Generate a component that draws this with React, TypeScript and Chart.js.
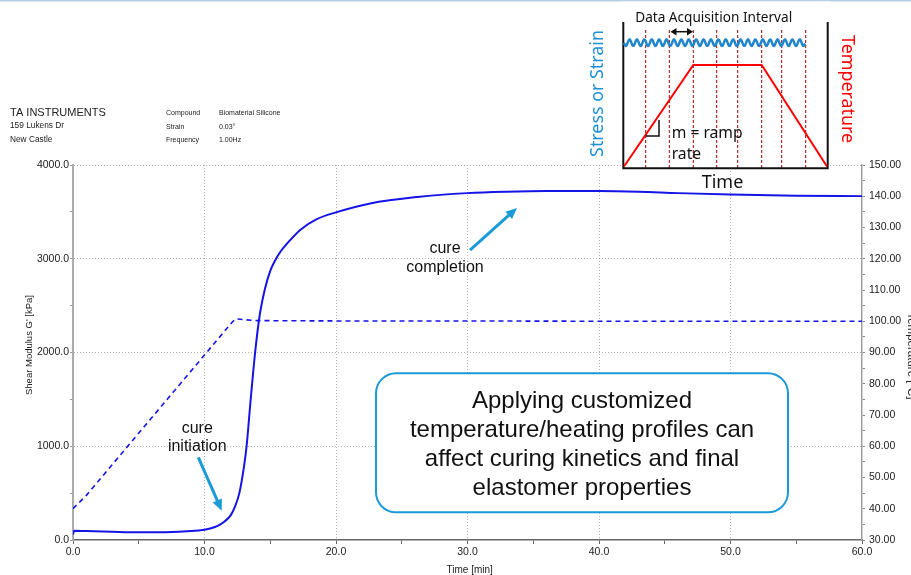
import React, { useEffect, useRef } from "react";
import { Chart, registerables } from "chart.js";
Chart.register(...registerables);

// ---- data ----
const modulusTime = [0, 0.1, 1, 3, 5, 7, 9, 10, 10.5, 11, 11.5, 12, 12.3, 12.65, 13.0, 13.2, 13.5, 13.85, 14.2, 14.6, 15.0, 15.4, 15.8, 16.3, 17.3, 18.5, 20, 22.6, 26.2, 30, 33, 36, 40, 43, 46, 50, 55, 60];
const modulusKPa = [60, 100, 95, 88, 83, 84, 95, 110, 125, 150, 195, 265, 350, 500, 780, 1000, 1480, 2000, 2400, 2680, 2870, 2990, 3080, 3165, 3310, 3420, 3495, 3590, 3659, 3700, 3715, 3722, 3722, 3715, 3700, 3685, 3672, 3668];
const tempTime = [0, 0.35, 1, 12.1, 12.4, 13, 14, 20, 30, 40, 50, 60];
const tempC = [40, 41.5, 44.2, 99.7, 100.8, 100.5, 100.2, 100.1, 100.1, 100, 100, 100];

const xTicksLabelled = [0, 10, 20, 30, 40, 50, 60];
const headerLeft = ["TA INSTRUMENTS", "159 Lukens Dr", "New Castle"];
const headerKeys = ["Compound", "Strain", "Frequency"];
const headerValues = ["Biomaterial Silicone", "0.03°", "1.00Hz"];
const boxLines = ["Applying customized", "temperature/heating profiles can", "affect curing kinetics and final", "elastomer properties"];

const F = '"Liberation Sans", Arial, sans-serif';
const INSET_F = '"Noto Sans", "Open Sans", sans-serif';
const BLUE = "#1414e6";
const ARROW = "#1a9ad6";
const GRID = "#b0b0b0";

function fitFont(ctx: CanvasRenderingContext2D, text: string, width: number, family: string) {
  ctx.font = `100px ${family}`;
  const w = ctx.measureText(text).width;
  const size = (100 * width) / w;
  return `${size}px ${family}`;
}

function arrow(ctx: CanvasRenderingContext2D, x1: number, y1: number, x2: number, y2: number) {
  const a = Math.atan2(y2 - y1, x2 - x1);
  const head = 11;
  ctx.save();
  ctx.strokeStyle = ARROW;
  ctx.fillStyle = ARROW;
  ctx.lineWidth = 3;
  ctx.beginPath();
  ctx.moveTo(x1, y1);
  ctx.lineTo(x2 - Math.cos(a) * head * 0.6, y2 - Math.sin(a) * head * 0.6);
  ctx.stroke();
  ctx.beginPath();
  ctx.moveTo(x2, y2);
  ctx.lineTo(x2 - head * Math.cos(a) + 5 * Math.sin(a), y2 - head * Math.sin(a) - 5 * Math.cos(a));
  ctx.lineTo(x2 - head * Math.cos(a) - 5 * Math.sin(a), y2 - head * Math.sin(a) + 5 * Math.cos(a));
  ctx.closePath();
  ctx.fill();
  ctx.restore();
}

const overlay = {
  id: "overlay",
  beforeDraw(chart: any) {
    const ctx = chart.ctx as CanvasRenderingContext2D;
    ctx.save();
    ctx.fillStyle = "#fff";
    ctx.fillRect(0, 0, chart.width, chart.height);
    ctx.restore();
  },
  afterDraw(chart: any) {
    const ctx = chart.ctx as CanvasRenderingContext2D;
    const xs = chart.scales.x;
    const ys = chart.scales.y;
    ctx.save();

    // top border line
    ctx.fillStyle = "#b8cfe2";
    ctx.fillRect(0, 0, chart.width, 1.5);

    // header
    ctx.fillStyle = "#222";
    ctx.textBaseline = "middle";
    ctx.textAlign = "left";
    ctx.font = fitFont(ctx, headerLeft[0], 96, F);
    ctx.fillText(headerLeft[0], 10, 112.7);
    ctx.font = `8.3px ${F}`;
    ctx.fillText(headerLeft[1], 10, 126);
    ctx.fillText(headerLeft[2], 10, 139.3);
    ctx.font = `7px ${F}`;
    const hy = [113.3, 126.7, 140];
    headerKeys.forEach((k, i) => ctx.fillText(k, 166, hy[i]));
    headerValues.forEach((k, i) => ctx.fillText(k, 219, hy[i]));

    // axis titles
    ctx.font = `9.5px ${F}`;
    ctx.fillStyle = "#222";
    ctx.save();
    ctx.translate(29, 345);
    ctx.rotate(-Math.PI / 2);
    ctx.textAlign = "center";
    ctx.fillText("Shear Modulus G' [kPa]", 0, 0);
    ctx.restore();
    ctx.textAlign = "center";
    ctx.font = `10px ${F}`;
    ctx.fillText("Time [min]", 469.7, 570);
    ctx.save();
    ctx.translate(907.5, 356);
    ctx.rotate(Math.PI / 2);
    ctx.textAlign = "center";
    ctx.textBaseline = "alphabetic";
    ctx.font = `11.5px ${F}`;
    ctx.fillText("Temperature [°C]", 0, 0);
    ctx.restore();

    // annotations
    ctx.font = `16px ${F}`;
    ctx.fillStyle = "#111";
    ctx.textAlign = "center";
    ctx.textBaseline = "middle";
    ctx.fillText("cure", xs.getPixelForValue(9.45), ys.getPixelForValue(1191));
    ctx.fillText("initiation", xs.getPixelForValue(9.45), ys.getPixelForValue(995));
    arrow(ctx, xs.getPixelForValue(9.53), ys.getPixelForValue(882), xs.getPixelForValue(11.31), ys.getPixelForValue(313));
    ctx.fillText("cure", xs.getPixelForValue(28.29), ys.getPixelForValue(3111));
    ctx.fillText("completion", xs.getPixelForValue(28.29), ys.getPixelForValue(2909));
    arrow(ctx, xs.getPixelForValue(30.19), ys.getPixelForValue(3093), xs.getPixelForValue(33.76), ys.getPixelForValue(3541));

    // text box
    const bx = 376, by = 373.3, bw = 412, bh = 139, r = 20;
    ctx.beginPath();
    ctx.moveTo(bx + r, by);
    ctx.arcTo(bx + bw, by, bx + bw, by + bh, r);
    ctx.arcTo(bx + bw, by + bh, bx, by + bh, r);
    ctx.arcTo(bx, by + bh, bx, by, r);
    ctx.arcTo(bx, by, bx + bw, by, r);
    ctx.closePath();
    ctx.fillStyle = "#fff";
    ctx.fill();
    ctx.strokeStyle = ARROW;
    ctx.lineWidth = 2;
    ctx.stroke();
    ctx.fillStyle = "#111";
    ctx.font = `24px ${F}`;
    const ly = [401.7, 430.5, 459.5, 488.5];
    boxLines.forEach((l, i) => ctx.fillText(l, 582, ly[i]));

    // inset diagram
    ctx.fillStyle = "#fff";
    ctx.fillRect(621, 1.5, 209, 167.5);
    ctx.strokeStyle = "#a00000";
    ctx.lineWidth = 1;
    ctx.setLineDash([3, 2]);
    [645.7, 669.3, 693.3, 716.7, 737.7, 761.7, 781.7, 805.7].forEach((x) => {
      ctx.beginPath();
      ctx.moveTo(x, 30);
      ctx.lineTo(x, 168);
      ctx.stroke();
    });
    ctx.setLineDash([]);
    ctx.strokeStyle = "#111";
    ctx.lineWidth = 2;
    ctx.beginPath();
    ctx.moveTo(623.3, 22);
    ctx.lineTo(623.3, 168.3);
    ctx.lineTo(827.7, 168.3);
    ctx.lineTo(827.7, 22);
    ctx.stroke();
    ctx.strokeStyle = "#ff0000";
    ctx.lineWidth = 2;
    ctx.beginPath();
    ctx.moveTo(624, 166.5);
    ctx.lineTo(693.3, 65);
    ctx.lineTo(761.7, 65);
    ctx.lineTo(827, 166.5);
    ctx.stroke();
    ctx.strokeStyle = "#1f86cc";
    ctx.lineWidth = 2.5;
    ctx.beginPath();
    for (let x = 624; x <= 805; x += 0.5) {
      const y = 42.7 + 3.2 * Math.sin(((x - 624) / 7.4) * 2 * Math.PI);
      if (x === 624) ctx.moveTo(x, y);
      else ctx.lineTo(x, y);
    }
    ctx.stroke();
    ctx.strokeStyle = "#111";
    ctx.fillStyle = "#111";
    ctx.lineWidth = 1.5;
    ctx.beginPath();
    ctx.moveTo(674, 31.7);
    ctx.lineTo(690, 31.7);
    ctx.stroke();
    ctx.beginPath();
    ctx.moveTo(670.5, 31.7); ctx.lineTo(676.5, 28); ctx.lineTo(676.5, 35.4); ctx.closePath(); ctx.fill();
    ctx.beginPath();
    ctx.moveTo(693, 31.7); ctx.lineTo(687, 28); ctx.lineTo(687, 35.4); ctx.closePath(); ctx.fill();
    ctx.lineWidth = 1.5;
    ctx.beginPath();
    ctx.moveTo(645.7, 136);
    ctx.lineTo(659, 136);
    ctx.lineTo(659, 120);
    ctx.stroke();
    ctx.fillStyle = "#111";
    ctx.textAlign = "center";
    ctx.textBaseline = "middle";
    ctx.font = fitFont(ctx, "Data Acquisition Interval", 157, INSET_F);
    ctx.fillText("Data Acquisition Interval", 713.7, 18.3);
    ctx.font = fitFont(ctx, "Time", 41.6, INSET_F);
    ctx.fillText("Time", 722.5, 183);
    ctx.textAlign = "left";
    const mf = fitFont(ctx, "m = ramp", 71, INSET_F);
    ctx.font = mf;
    ctx.fillText("m = ramp", 671.7, 133.3);
    ctx.fillText("rate", 671.7, 155);
    ctx.textAlign = "center";
    ctx.save();
    ctx.translate(598.3, 93.5);
    ctx.rotate(-Math.PI / 2);
    ctx.fillStyle = "#1e90d6";
    ctx.font = fitFont(ctx, "Stress or Strain", 127, INSET_F);
    ctx.fillText("Stress or Strain", 0, 0);
    ctx.restore();
    ctx.save();
    ctx.translate(846.7, 89);
    ctx.rotate(Math.PI / 2);
    ctx.fillStyle = "#ff0000";
    ctx.font = fitFont(ctx, "Temperature", 108, INSET_F);
    ctx.fillText("Temperature", 0, 0);
    ctx.restore();

    ctx.restore();
  },
};

export default function App() {
  const ref = useRef<HTMLCanvasElement>(null);
  useEffect(() => {
    const chart = new Chart(ref.current!, {
      type: "line",
      data: {
        datasets: [
          {
            label: "G'",
            data: modulusTime.map((t, i) => ({ x: t, y: modulusKPa[i] })),
            borderColor: BLUE,
            borderWidth: 2,
            pointRadius: 0,
            cubicInterpolationMode: "monotone",
            yAxisID: "y",
          },
          {
            label: "Temperature",
            data: tempTime.map((t, i) => ({ x: t, y: tempC[i] })),
            borderColor: BLUE,
            borderWidth: 1.6,
            borderDash: [5, 4],
            pointRadius: 0,
            yAxisID: "y1",
          },
        ],
      },
      options: {
        responsive: false,
        animation: false,
        layout: { padding: { top: 165, left: 0, right: 0, bottom: 0 } },
        plugins: { legend: { display: false }, tooltip: { enabled: false } },
        scales: {
          x: {
            type: "linear",
            position: "bottom",
            min: 0,
            max: 60,
            afterFit: (s: any) => { s.height = 35; },
            ticks: {
              stepSize: 5,
              autoSkip: false,
              maxRotation: 0,
              padding: 2,
              color: "#222",
              font: { family: F, size: 10.5 },
              callback: (v: any) => (xTicksLabelled.includes(Number(v)) ? Number(v).toFixed(1) : ""),
            },
            grid: {
              color: (c: any) => {
                const v = c.tick ? c.tick.value : 0;
                return v % 10 === 0 && v > 0 && v < 60 ? GRID : "rgba(0,0,0,0)";
              },
              lineWidth: 1,
              tickColor: "#666",
              tickLength: 4,
            },
            border: { color: "#666", width: 1.5, dash: [1, 2] },
          },
          y: {
            position: "left",
            min: 0,
            max: 4000,
            afterFit: (s: any) => { s.width = 73; },
            ticks: {
              stepSize: 500,
              autoSkip: false,
              padding: 1,
              color: "#222",
              font: { family: F, size: 10.5 },
              callback: (v: any) => (Number(v) % 1000 === 0 ? Number(v).toFixed(1) : ""),
            },
            grid: {
              color: (c: any) => {
                const v = c.tick ? c.tick.value : 0;
                return v % 1000 === 0 && v > 0 ? GRID : "rgba(0,0,0,0)";
              },
              lineWidth: 1,
              tickColor: "#999",
              tickLength: 3,
            },
            border: { color: "#ababab", width: 2, dash: [1, 2] },
          },
          y1: {
            position: "right",
            min: 30,
            max: 150,
            afterFit: (s: any) => { s.width = 49; },
            ticks: {
              stepSize: 5,
              autoSkip: false,
              padding: 4,
              color: "#222",
              font: { family: F, size: 10.5 },
              callback: (v: any) => (Number(v) % 10 === 0 ? Number(v).toFixed(2) : ""),
            },
            grid: { drawOnChartArea: false, tickColor: "#888", tickLength: 3 },
            border: { color: "#a0a0a0", width: 1.5 },
          },
        },
      },
      plugins: [overlay],
    } as any);
    return () => chart.destroy();
  }, []);
  return (
    <div style={{ position: "fixed", left: 0, top: 0, width: 911, height: 575, background: "#fff" }}>
      <canvas ref={ref} width={911} height={575} style={{ display: "block", width: 911, height: 575 }} />
    </div>
  );
}
